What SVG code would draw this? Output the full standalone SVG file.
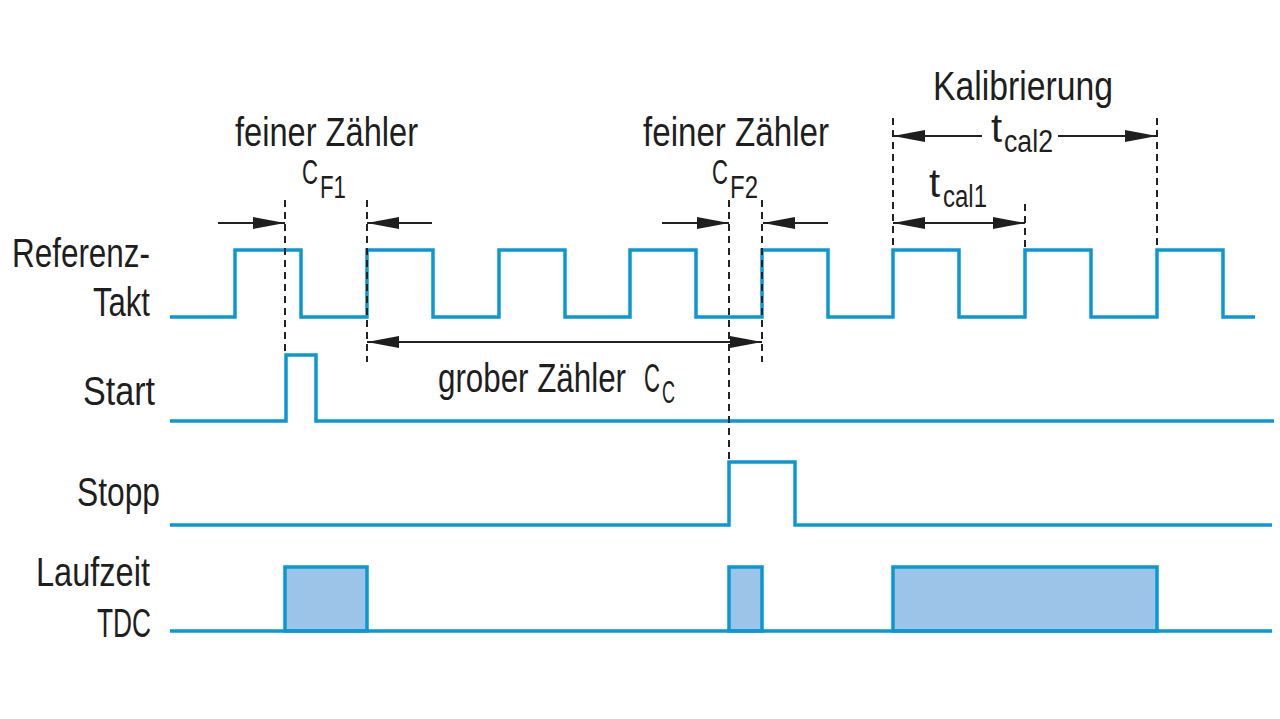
<svg xmlns="http://www.w3.org/2000/svg" width="1280" height="719" viewBox="0 0 1280 719">
<style>
.sig{fill:none;stroke:#0b96d4;stroke-width:3.5;stroke-linejoin:miter;stroke-linecap:butt}
.box{fill:#9cc4e8;stroke:#0b96d4;stroke-width:3.5}
.dash{stroke:#222;stroke-width:2;stroke-dasharray:7 5;fill:none}
.arr{stroke:#222;stroke-width:2;fill:none}
text{font-family:"Liberation Sans Narrow","Liberation Sans",Arial,sans-serif;fill:#1e1e1e;font-size:40px}
.sub{font-size:31px}
.cf{font-size:35px}
</style>
<defs>
<marker id="ah" viewBox="0 0 32 13" markerWidth="32" markerHeight="13" refX="32" refY="6.5" orient="auto-start-reverse" markerUnits="userSpaceOnUse">
<path d="M0,0.5 L32,6.5 L0,12.5 Z" fill="#1e1e1e"/>
</marker>
</defs>
<rect width="1280" height="719" fill="#fff"/>

<g id="labels">
<text x="12" y="267" textLength="138" lengthAdjust="spacingAndGlyphs">Referenz-</text>
<text x="93" y="316" textLength="57" lengthAdjust="spacingAndGlyphs">Takt</text>
<text x="83" y="405" textLength="72" lengthAdjust="spacingAndGlyphs">Start</text>
<text x="77" y="506" textLength="83" lengthAdjust="spacingAndGlyphs">Stopp</text>
<text x="36" y="586" textLength="114" lengthAdjust="spacingAndGlyphs">Laufzeit</text>
<text x="97" y="637" textLength="54" lengthAdjust="spacingAndGlyphs">TDC</text>
</g>

<g id="clock">
<path class="sig" d="M170,317 H235 V250 H301 V317 H367 V250 H433 V317 H499 V250 H565 V317 H630 V250 H696 V317 H762 V250 H828 V317 H893 V250 H959 V317 H1025 V250 H1091 V317 H1157 V250 H1223 V317 H1255"/>
</g>

<g id="start">
<path class="sig" d="M170,421 H286 V355 H316 V421 H1274"/>
</g>

<g id="stopp">
<path class="sig" d="M170,525 H729 V462 H795 V525 H1272"/>
</g>

<g id="laufzeit">
<rect class="box" x="285" y="567" width="82" height="64"/>
<rect class="box" x="729" y="567" width="33" height="64"/>
<rect class="box" x="893" y="567" width="264" height="64"/>
<path class="sig" d="M170,631 H1272"/>
</g>

<g id="connectors">
<line class="dash" x1="285" y1="200" x2="285" y2="355"/>
<line class="dash" x1="367" y1="200" x2="367" y2="362"/>
<line class="dash" x1="729" y1="200" x2="729" y2="462"/>
<line class="dash" x1="762" y1="200" x2="762" y2="362"/>
<line class="dash" x1="893" y1="118" x2="893" y2="250"/>
<line class="dash" x1="1157" y1="118" x2="1157" y2="250"/>
<line class="dash" x1="1025" y1="204" x2="1025" y2="250"/>

<line class="arr" x1="218" y1="223" x2="285" y2="223" marker-end="url(#ah)"/>
<line class="arr" x1="432" y1="223" x2="367" y2="223" marker-end="url(#ah)"/>
<line class="arr" x1="662" y1="223" x2="729" y2="223" marker-end="url(#ah)"/>
<line class="arr" x1="828" y1="223" x2="763" y2="223" marker-end="url(#ah)"/>
<line class="arr" x1="367" y1="342" x2="762" y2="342" marker-start="url(#ah)" marker-end="url(#ah)"/>
<line class="arr" x1="893" y1="223" x2="1025" y2="223" marker-start="url(#ah)" marker-end="url(#ah)"/>
<line class="arr" x1="982" y1="136" x2="893" y2="136" marker-end="url(#ah)"/>
<line class="arr" x1="1058" y1="136" x2="1157" y2="136" marker-end="url(#ah)"/>
</g>

<g id="annotations">
<text x="235" y="146" textLength="183" lengthAdjust="spacingAndGlyphs">feiner Zähler</text>
<text class="cf" x="302" y="184" textLength="16" lengthAdjust="spacingAndGlyphs">C</text>
<text class="sub" x="320" y="198" textLength="26" lengthAdjust="spacingAndGlyphs">F1</text>

<text x="643" y="146" textLength="186" lengthAdjust="spacingAndGlyphs">feiner Zähler</text>
<text class="cf" x="712" y="184" textLength="16" lengthAdjust="spacingAndGlyphs">C</text>
<text class="sub" x="730" y="198" textLength="28" lengthAdjust="spacingAndGlyphs">F2</text>

<text x="438" y="392" textLength="188" lengthAdjust="spacingAndGlyphs">grober Zähler</text>
<text x="644" y="392" textLength="16" lengthAdjust="spacingAndGlyphs">C</text>
<text class="sub" x="662" y="403" textLength="13" lengthAdjust="spacingAndGlyphs">C</text>

<text x="933" y="100" textLength="180" lengthAdjust="spacingAndGlyphs">Kalibrierung</text>
<text x="991" y="142">t</text>
<text class="sub" x="1004" y="152" textLength="49" lengthAdjust="spacingAndGlyphs">cal2</text>
<text x="929" y="197">t</text>
<text class="sub" x="943" y="207" textLength="44" lengthAdjust="spacingAndGlyphs">cal1</text>
</g>
</svg>
